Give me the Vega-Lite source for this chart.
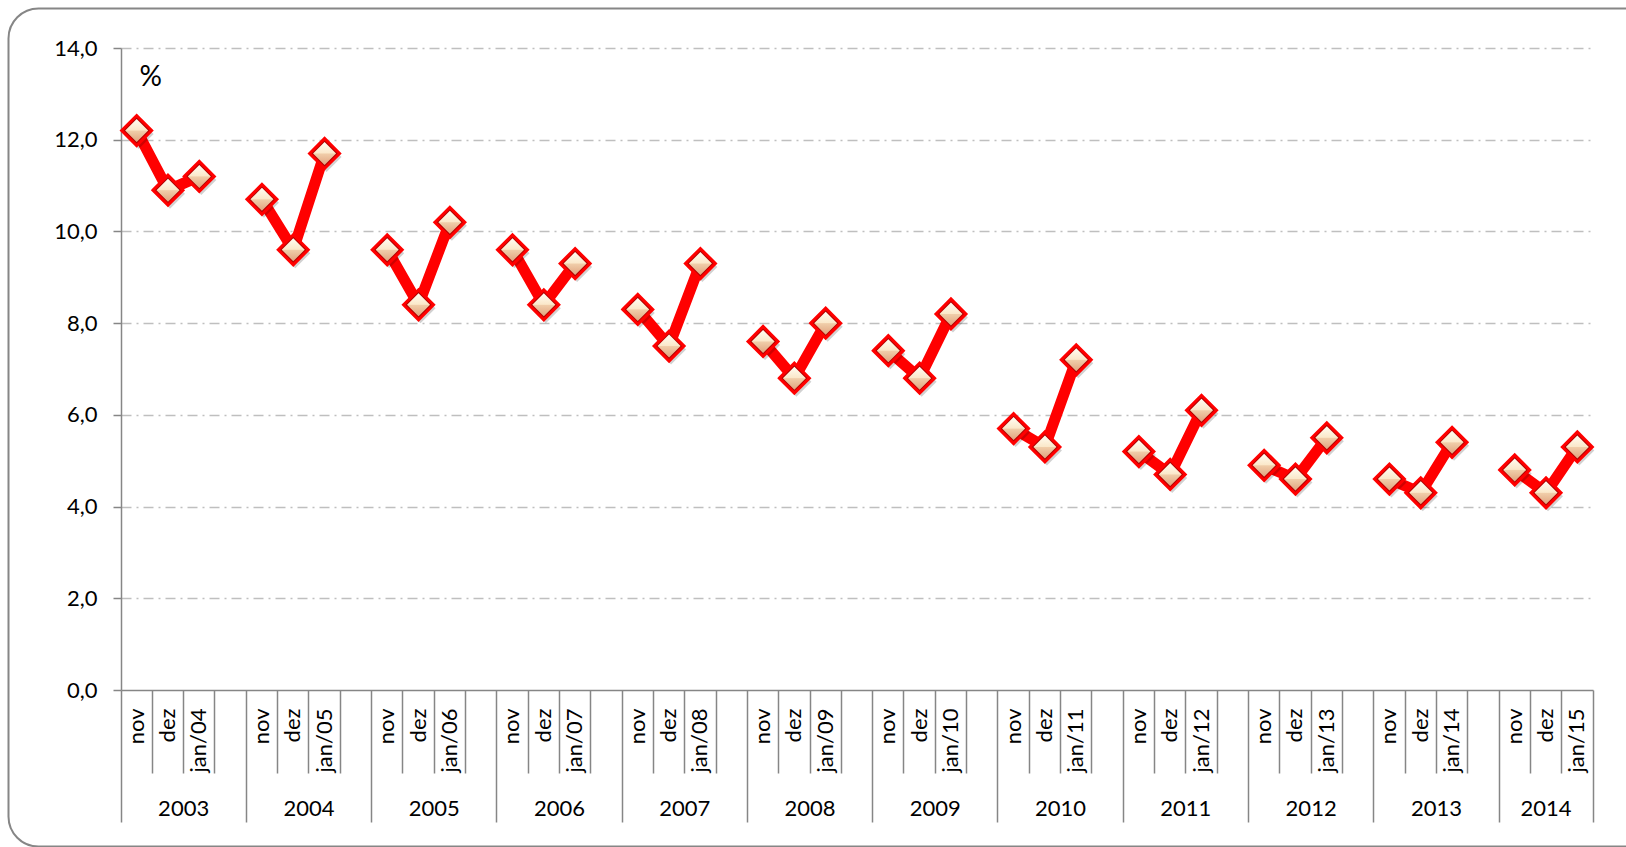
{
  "$schema": "https://vega.github.io/schema/vega-lite/v6.json",
  "width": 1472,
  "height": 642,
  "autosize": {"type": "none"},
  "padding": {"left": 121, "top": 48, "right": 33, "bottom": 157},
  "background": "white",
  "config": {"view": {"stroke": null}, "font": "Lato"},
  "data": {
    "values": [
      {"year": "2003", "slot": "2003|nov", "rate": 12.2},
      {"year": "2003", "slot": "2003|dez", "rate": 10.9},
      {"year": "2003", "slot": "2003|jan/04", "rate": 11.2},
      {"year": "2004", "slot": "2004|nov", "rate": 10.7},
      {"year": "2004", "slot": "2004|dez", "rate": 9.6},
      {"year": "2004", "slot": "2004|jan/05", "rate": 11.7},
      {"year": "2005", "slot": "2005|nov", "rate": 9.6},
      {"year": "2005", "slot": "2005|dez", "rate": 8.4},
      {"year": "2005", "slot": "2005|jan/06", "rate": 10.2},
      {"year": "2006", "slot": "2006|nov", "rate": 9.6},
      {"year": "2006", "slot": "2006|dez", "rate": 8.4},
      {"year": "2006", "slot": "2006|jan/07", "rate": 9.3},
      {"year": "2007", "slot": "2007|nov", "rate": 8.3},
      {"year": "2007", "slot": "2007|dez", "rate": 7.5},
      {"year": "2007", "slot": "2007|jan/08", "rate": 9.3},
      {"year": "2008", "slot": "2008|nov", "rate": 7.6},
      {"year": "2008", "slot": "2008|dez", "rate": 6.8},
      {"year": "2008", "slot": "2008|jan/09", "rate": 8.0},
      {"year": "2009", "slot": "2009|nov", "rate": 7.4},
      {"year": "2009", "slot": "2009|dez", "rate": 6.8},
      {"year": "2009", "slot": "2009|jan/10", "rate": 8.2},
      {"year": "2010", "slot": "2010|nov", "rate": 5.7},
      {"year": "2010", "slot": "2010|dez", "rate": 5.3},
      {"year": "2010", "slot": "2010|jan/11", "rate": 7.2},
      {"year": "2011", "slot": "2011|nov", "rate": 5.2},
      {"year": "2011", "slot": "2011|dez", "rate": 4.7},
      {"year": "2011", "slot": "2011|jan/12", "rate": 6.1},
      {"year": "2012", "slot": "2012|nov", "rate": 4.9},
      {"year": "2012", "slot": "2012|dez", "rate": 4.6},
      {"year": "2012", "slot": "2012|jan/13", "rate": 5.5},
      {"year": "2013", "slot": "2013|nov", "rate": 4.6},
      {"year": "2013", "slot": "2013|dez", "rate": 4.3},
      {"year": "2013", "slot": "2013|jan/14", "rate": 5.4},
      {"year": "2014", "slot": "2014|nov", "rate": 4.8},
      {"year": "2014", "slot": "2014|dez", "rate": 4.3},
      {"year": "2014", "slot": "2014|jan/15", "rate": 5.3}
    ]
  },
  "layer": [
    {
      "data": {"values": [{}]},
      "mark": {"type": "rect", "fill": "white", "fillOpacity": 0, "stroke": "#868686", "strokeWidth": 2, "cornerRadius": 30, "xOffset": -758.75, "yOffset": 379.5, "width": {"expr": "width + 179.5"}, "height": {"expr": "height + 196"}},
      "encoding": {}
    },
    {
      "mark": {"type": "line", "color": "#FF0000", "strokeWidth": 11, "strokeJoin": "round"},
      "encoding": {
        "x": {
          "field": "slot", "type": "ordinal",
          "scale": {"type": "band", "paddingInner": 0, "paddingOuter": 0, "domain": ["2003|nov","2003|dez","2003|jan/04","2003|","2004|nov","2004|dez","2004|jan/05","2004|","2005|nov","2005|dez","2005|jan/06","2005|","2006|nov","2006|dez","2006|jan/07","2006|","2007|nov","2007|dez","2007|jan/08","2007|","2008|nov","2008|dez","2008|jan/09","2008|","2009|nov","2009|dez","2009|jan/10","2009|","2010|nov","2010|dez","2010|jan/11","2010|","2011|nov","2011|dez","2011|jan/12","2011|","2012|nov","2012|dez","2012|jan/13","2012|","2013|nov","2013|dez","2013|jan/14","2013|","2014|nov","2014|dez","2014|jan/15"]},
          "axis": {"orient": "bottom", "title": null, "labelExpr": "split(datum.value, '|')[1]", "labelAngle": -90, "labelAlign": "right", "labelBaseline": "middle", "labelPadding": 18, "labelFont": "Lato", "labelFontSize": 22, "labelColor": "#000000", "labelOverlap": false, "labelFlush": false, "ticks": false, "tickSize": 0, "domain": true, "domainColor": "#868686", "domainWidth": 1.5, "grid": false, "zindex": 1}
        },
        "y": {
          "field": "rate", "type": "quantitative",
          "scale": {"domain": [0, 14], "nice": false},
          "axis": {"values": [0,2,4,6,8,10,12,14], "labelExpr": "replace(format(datum.value, '.1f'), '.', ',')", "labelFont": "Lato", "labelFontSize": 22, "labelColor": "#000000", "labelPadding": 16, "tickSize": 8, "tickColor": "#868686", "tickWidth": 1.5, "domainColor": "#868686", "domainWidth": 1.5, "grid": true, "gridColor": "#BFBFBF", "gridWidth": 1.5, "gridDash": [10, 5, 2, 5], "gridOpacity": {"condition": {"test": "datum.value === 0", "value": 0}, "value": 1}, "title": "%", "titleAngle": 0, "titleAlign": "left", "titleBaseline": "middle", "titleX": 18, "titleY": 29, "titleFont": "Lato", "titleFontSize": 28, "titleFontWeight": "normal", "titleColor": "#000000"}
        },
        "detail": {"field": "year"},
        "order": {"value": null}
      }
    },
    {
      "mark": {"type": "point", "shape": "diamond", "filled": true, "fill": "#000000", "opacity": 0.18, "size": 900, "strokeWidth": 0, "xOffset": 2, "yOffset": 3.5},
      "encoding": {
        "x": {
          "field": "slot", "type": "ordinal",
          "scale": {"type": "band", "paddingInner": 0, "paddingOuter": 0, "domain": ["2003|nov","2003|dez","2003|jan/04","2003|","2004|nov","2004|dez","2004|jan/05","2004|","2005|nov","2005|dez","2005|jan/06","2005|","2006|nov","2006|dez","2006|jan/07","2006|","2007|nov","2007|dez","2007|jan/08","2007|","2008|nov","2008|dez","2008|jan/09","2008|","2009|nov","2009|dez","2009|jan/10","2009|","2010|nov","2010|dez","2010|jan/11","2010|","2011|nov","2011|dez","2011|jan/12","2011|","2012|nov","2012|dez","2012|jan/13","2012|","2013|nov","2013|dez","2013|jan/14","2013|","2014|nov","2014|dez","2014|jan/15"]},
          "axis": {"orient": "bottom", "title": null, "labels": false, "domain": false, "ticks": true, "bandPosition": 0, "tickColor": "#868686", "tickWidth": 1.5, "tickSize": {"condition": {"test": "indexof(datum.value, '|nov') >= 0", "value": 132}, "value": 83}, "grid": false}
        },
        "y": {
          "field": "rate", "type": "quantitative",
          "scale": {"domain": [0, 14], "nice": false},
          "axis": {"values": [0,2,4,6,8,10,12,14], "labelExpr": "replace(format(datum.value, '.1f'), '.', ',')", "labelFont": "Lato", "labelFontSize": 22, "labelColor": "#000000", "labelPadding": 16, "tickSize": 8, "tickColor": "#868686", "tickWidth": 1.5, "domainColor": "#868686", "domainWidth": 1.5, "grid": true, "gridColor": "#BFBFBF", "gridWidth": 1.5, "gridDash": [10, 5, 2, 5], "gridOpacity": {"condition": {"test": "datum.value === 0", "value": 0}, "value": 1}, "title": "%", "titleAngle": 0, "titleAlign": "left", "titleBaseline": "middle", "titleX": 18, "titleY": 29, "titleFont": "Lato", "titleFontSize": 28, "titleFontWeight": "normal", "titleColor": "#000000"}
        }
      }
    },
    {
      "mark": {"type": "point", "shape": "diamond", "filled": true, "fill": "#B00000", "stroke": "#FF0000", "strokeWidth": 3, "opacity": 1, "size": 900},
      "encoding": {
        "x": {
          "field": "slot", "type": "ordinal",
          "scale": {"type": "band", "paddingInner": 0, "paddingOuter": 0, "domain": ["2003|nov","2003|dez","2003|jan/04","2003|","2004|nov","2004|dez","2004|jan/05","2004|","2005|nov","2005|dez","2005|jan/06","2005|","2006|nov","2006|dez","2006|jan/07","2006|","2007|nov","2007|dez","2007|jan/08","2007|","2008|nov","2008|dez","2008|jan/09","2008|","2009|nov","2009|dez","2009|jan/10","2009|","2010|nov","2010|dez","2010|jan/11","2010|","2011|nov","2011|dez","2011|jan/12","2011|","2012|nov","2012|dez","2012|jan/13","2012|","2013|nov","2013|dez","2013|jan/14","2013|","2014|nov","2014|dez","2014|jan/15"]},
          "axis": {"orient": "bottom", "title": null, "labels": false, "domain": false, "values": ["2014|jan/15"], "bandPosition": 1, "tickColor": "#868686", "tickWidth": 1.5, "tickSize": 132, "grid": false}
        },
        "y": {
          "field": "rate", "type": "quantitative",
          "scale": {"domain": [0, 14], "nice": false},
          "axis": {"values": [0,2,4,6,8,10,12,14], "labelExpr": "replace(format(datum.value, '.1f'), '.', ',')", "labelFont": "Lato", "labelFontSize": 22, "labelColor": "#000000", "labelPadding": 16, "tickSize": 8, "tickColor": "#868686", "tickWidth": 1.5, "domainColor": "#868686", "domainWidth": 1.5, "grid": true, "gridColor": "#BFBFBF", "gridWidth": 1.5, "gridDash": [10, 5, 2, 5], "gridOpacity": {"condition": {"test": "datum.value === 0", "value": 0}, "value": 1}, "title": "%", "titleAngle": 0, "titleAlign": "left", "titleBaseline": "middle", "titleX": 18, "titleY": 29, "titleFont": "Lato", "titleFontSize": 28, "titleFontWeight": "normal", "titleColor": "#000000"}
        }
      }
    },
    {
      "mark": {"type": "point", "shape": "diamond", "filled": true, "opacity": 1, "size": 529, "strokeWidth": 0,
        "fill": {"gradient": "linear", "x1": 0, "y1": 0, "x2": 0, "y2": 1, "stops": [{"offset": 0, "color": "#FFFDF3"}, {"offset": 0.48, "color": "#FBE8CA"}, {"offset": 0.52, "color": "#F0CDA9"}, {"offset": 1, "color": "#E0A37E"}]}},
      "encoding": {
        "x": {
          "field": "slot", "type": "ordinal",
          "scale": {"type": "band", "paddingInner": 0, "paddingOuter": 0, "domain": ["2003|nov","2003|dez","2003|jan/04","2003|","2004|nov","2004|dez","2004|jan/05","2004|","2005|nov","2005|dez","2005|jan/06","2005|","2006|nov","2006|dez","2006|jan/07","2006|","2007|nov","2007|dez","2007|jan/08","2007|","2008|nov","2008|dez","2008|jan/09","2008|","2009|nov","2009|dez","2009|jan/10","2009|","2010|nov","2010|dez","2010|jan/11","2010|","2011|nov","2011|dez","2011|jan/12","2011|","2012|nov","2012|dez","2012|jan/13","2012|","2013|nov","2013|dez","2013|jan/14","2013|","2014|nov","2014|dez","2014|jan/15"]},
          "axis": {"orient": "bottom", "title": null, "values": ["2003|dez","2004|dez","2005|dez","2006|dez","2007|dez","2008|dez","2009|dez","2010|dez","2011|dez","2012|dez","2013|dez","2014|dez"], "labelExpr": "split(datum.value, '|')[0]", "labelAngle": 0, "labelAlign": "center", "labelBaseline": "alphabetic", "labelPadding": 125, "labelOffset": {"condition": {"test": "datum.value === '2014|dez'", "value": 0}, "value": 15.66}, "labelFont": "Lato", "labelFontSize": 22, "labelColor": "#000000", "labelOverlap": false, "labelFlush": false, "ticks": false, "tickSize": 0, "domain": false, "grid": false}
        },
        "y": {
          "field": "rate", "type": "quantitative",
          "scale": {"domain": [0, 14], "nice": false},
          "axis": {"values": [0,2,4,6,8,10,12,14], "labelExpr": "replace(format(datum.value, '.1f'), '.', ',')", "labelFont": "Lato", "labelFontSize": 22, "labelColor": "#000000", "labelPadding": 16, "tickSize": 8, "tickColor": "#868686", "tickWidth": 1.5, "domainColor": "#868686", "domainWidth": 1.5, "grid": true, "gridColor": "#BFBFBF", "gridWidth": 1.5, "gridDash": [10, 5, 2, 5], "gridOpacity": {"condition": {"test": "datum.value === 0", "value": 0}, "value": 1}, "title": "%", "titleAngle": 0, "titleAlign": "left", "titleBaseline": "middle", "titleX": 18, "titleY": 29, "titleFont": "Lato", "titleFontSize": 28, "titleFontWeight": "normal", "titleColor": "#000000"}
        }
      }
    }
  ],
  "resolve": {"axis": {"x": "independent"}}
}
